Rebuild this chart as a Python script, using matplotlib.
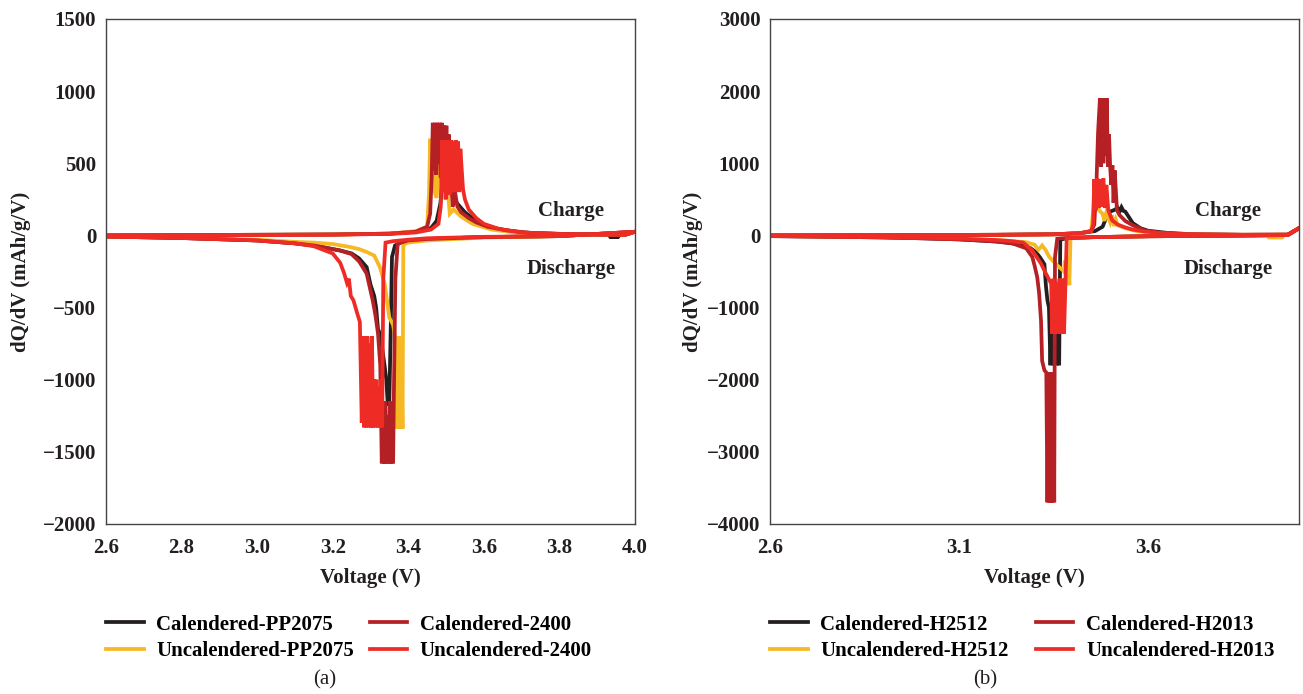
import matplotlib
matplotlib.use('Agg')
import matplotlib.pyplot as plt

plt.rcParams['font.family'] = ['Liberation Serif', 'DejaVu Serif']
plt.rcParams['font.weight'] = 'bold'

BLACK = '#231f20'
YELLOW = '#f6b823'
DARKRED = '#b52025'
RED = '#ee2b25'
TXT = '#231f20'

# ---------------- panel (a) ----------------
# Calendered-PP2075
a_cal_pp_chg_v = [2.60, 2.90, 3.20, 3.35, 3.42, 3.46, 3.475, 3.485, 3.49, 3.495, 3.50, 3.505, 3.51, 3.515,
                  3.52, 3.53, 3.55, 3.58, 3.62, 3.70, 3.80, 3.90, 3.93, 3.935, 3.955, 3.96, 3.975, 4.00]
a_cal_pp_chg_q = [0, 3, 6, 12, 25, 50, 100, 220, 350, 420, 330, 400, 300, 330,
                  260, 220, 160, 100, 50, 20, 10, 5, 5, -12, -12, 5, 5, 25]
a_cal_pp_dis_v = [4.00, 3.80, 3.60, 3.45, 3.40, 3.38, 3.365, 3.357, 3.354, 3.350, 3.346, 3.342, 3.338,
                  3.33, 3.325, 3.32, 3.315, 3.31, 3.30, 3.29, 3.27, 3.25, 3.22, 3.15, 3.10, 3.00, 2.80, 2.60]
a_cal_pp_dis_q = [25, -5, -12, -25, -40, -50, -70, -150, -600, -1150, -1180, -1000, -915,
                  -760, -680, -650, -500, -420, -340, -220, -160, -125, -105, -70, -55, -35, -18, -8]

# Uncalendered-PP2075
a_unc_pp_chg_v = [2.60, 2.90, 3.20, 3.35, 3.42, 3.45, 3.455, 3.458, 3.462, 3.466, 3.47, 3.475, 3.48, 3.485,
                  3.49, 3.495, 3.50, 3.505, 3.51, 3.52, 3.54, 3.57, 3.62, 3.70, 3.80, 3.90, 3.975, 4.00]
a_unc_pp_chg_q = [0, 3, 6, 12, 30, 60, 300, 670, 450, 670, 300, 260, 450, 600,
                  300, 400, 250, 300, 150, 180, 130, 80, 40, 15, 8, 5, 5, 25]
a_unc_pp_dis_v = [4.00, 3.80, 3.60, 3.45, 3.40, 3.39, 3.387, 3.385, 3.381, 3.377, 3.373, 3.369, 3.365,
                  3.36, 3.35, 3.338, 3.325, 3.31, 3.29, 3.27, 3.245, 3.20, 3.15, 3.10, 3.00, 2.80, 2.60]
a_unc_pp_dis_q = [25, -5, -15, -35, -50, -60, -70, -1340, -700, -1340, -700, -1340, -700,
                  -620, -570, -340, -220, -140, -115, -95, -80, -60, -50, -45, -30, -15, -8]

# Calendered-2400
a_cal_24_chg_v = [2.60, 2.90, 3.20, 3.35, 3.42, 3.45, 3.458, 3.462, 3.465, 3.468, 3.471, 3.474, 3.477,
                  3.480, 3.483, 3.486, 3.489, 3.492, 3.495, 3.498, 3.501, 3.504, 3.507, 3.510, 3.513,
                  3.518, 3.522, 3.53, 3.54, 3.56, 3.58, 3.61, 3.66, 3.73, 3.85, 3.95, 3.975, 4.00]
a_cal_24_chg_q = [0, 3, 6, 12, 25, 60, 150, 400, 780, 450, 780, 420, 780,
                  500, 780, 400, 780, 450, 760, 420, 760, 400, 700, 400, 380,
                  200, 330, 200, 160, 120, 90, 60, 35, 15, 8, 5, 5, 25]
a_cal_24_dis_v = [4.00, 3.80, 3.60, 3.45, 3.40, 3.38, 3.372, 3.366, 3.362, 3.360, 3.357, 3.354, 3.351,
                  3.348, 3.345, 3.342, 3.339, 3.336, 3.333, 3.330, 3.326, 3.32, 3.313, 3.306, 3.29,
                  3.27, 3.25, 3.22, 3.15, 3.10, 3.00, 2.80, 2.60]
a_cal_24_dis_q = [25, -5, -12, -25, -35, -50, -60, -300, -1100, -1580, -1200, -1580, -1150,
                  -1580, -1250, -1580, -1150, -1580, -1200, -1580, -900, -680, -550, -450, -265,
                  -180, -130, -105, -70, -55, -35, -18, -8]

# Uncalendered-2400
a_unc_24_chg_v = [2.60, 2.90, 3.20, 3.35, 3.42, 3.46, 3.48, 3.486, 3.490, 3.493, 3.496, 3.499, 3.502,
                  3.505, 3.508, 3.511, 3.514, 3.517, 3.520, 3.523, 3.526, 3.529, 3.532, 3.535, 3.538,
                  3.545, 3.55, 3.56, 3.58, 3.60, 3.64, 3.70, 3.80, 3.90, 3.975, 4.00]
a_unc_24_chg_q = [0, 2, 5, 10, 20, 40, 80, 200, 660, 300, 660, 250, 660,
                  300, 650, 280, 660, 300, 650, 300, 660, 320, 650, 300, 600,
                  320, 250, 180, 120, 80, 45, 20, 10, 5, 5, 25]
a_unc_24_dis_v = [4.00, 3.80, 3.60, 3.45, 3.40, 3.36, 3.34, 3.334, 3.331, 3.328, 3.325, 3.322, 3.319,
                  3.316, 3.313, 3.310, 3.307, 3.304, 3.301, 3.298, 3.295, 3.292, 3.289, 3.286, 3.283,
                  3.280, 3.277, 3.272, 3.265, 3.255, 3.248, 3.243, 3.238, 3.23, 3.22, 3.20, 3.15,
                  3.10, 3.00, 2.80, 2.60]
a_unc_24_dis_q = [25, -5, -10, -20, -30, -40, -50, -300, -1330, -1000, -1330, -1050, -1330,
                  -1000, -1330, -1000, -1330, -700, -1330, -750, -1330, -700, -1330, -700, -1330,
                  -700, -1300, -600, -540, -450, -420, -300, -330, -260, -190, -125, -75,
                  -55, -35, -18, -8]

# ---------------- panel (b) ----------------
# Calendered-H2512
b_cal_25_chg_v = [2.60, 2.90, 3.20, 3.35, 3.42, 3.46, 3.48, 3.49, 3.50, 3.51, 3.52, 3.525, 3.53, 3.535,
                  3.54, 3.55, 3.56, 3.58, 3.60, 3.65, 3.72, 3.85, 3.97, 4.00]
b_cal_25_chg_q = [0, 3, 8, 15, 30, 60, 120, 250, 330, 350, 380, 330, 390, 340,
                  330, 250, 170, 100, 65, 35, 15, 8, 10, 100]
b_cal_25_dis_v = [4.00, 3.97, 3.80, 3.60, 3.45, 3.40, 3.38, 3.368, 3.365, 3.362, 3.358, 3.354, 3.350,
                  3.346, 3.342, 3.338, 3.334, 3.33, 3.326, 3.315, 3.304, 3.29, 3.27, 3.24, 3.20,
                  3.15, 3.10, 3.00, 2.90, 2.75, 2.60]
b_cal_25_dis_q = [100, 5, -5, -12, -25, -35, -45, -60, -1800, -900, -1800, -950, -1800,
                  -900, -1800, -1000, -900, -700, -400, -310, -235, -180, -140, -110, -85,
                  -70, -55, -40, -28, -18, -10]

# Uncalendered-H2512
b_unc_25_chg_v = [2.60, 2.90, 3.20, 3.35, 3.42, 3.45, 3.456, 3.458, 3.462, 3.465, 3.47, 3.48, 3.485,
                  3.49, 3.50, 3.505, 3.51, 3.515, 3.52, 3.54, 3.57, 3.62, 3.70, 3.85, 3.97, 4.00]
b_unc_25_chg_q = [0, 3, 8, 15, 30, 60, 400, 780, 500, 650, 350, 300, 200,
                  320, 180, 280, 130, 220, 140, 100, 60, 30, 15, 8, 10, 100]
b_unc_25_dis_v = [4.00, 3.97, 3.96, 3.955, 3.92, 3.915, 3.80, 3.60, 3.45, 3.40, 3.395, 3.392, 3.388,
                  3.384, 3.380, 3.378, 3.357, 3.339, 3.33, 3.32, 3.31, 3.30, 3.278, 3.24, 3.20,
                  3.15, 3.10, 3.00, 2.90, 2.75, 2.60]
b_unc_25_dis_q = [100, 5, 5, -30, -30, 0, -5, -12, -25, -35, -45, -690, -300,
                  -690, -350, -500, -400, -300, -210, -140, -200, -130, -95, -80, -65,
                  -55, -45, -35, -25, -15, -8]

# Calendered-H2013
b_cal_20_chg_v = [2.60, 2.90, 3.20, 3.35, 3.42, 3.45, 3.458, 3.464, 3.468, 3.473, 3.476, 3.479, 3.482,
                  3.485, 3.488, 3.491, 3.494, 3.497, 3.500, 3.503, 3.506, 3.509, 3.512, 3.518, 3.525,
                  3.54, 3.56, 3.59, 3.63, 3.70, 3.85, 3.97, 4.00]
b_cal_20_chg_q = [0, 3, 8, 15, 30, 60, 150, 760, 1430, 1900, 950, 1900, 1000,
                  1900, 1100, 1900, 950, 1400, 950, 700, 970, 450, 900, 350, 280,
                  200, 140, 70, 35, 15, 8, 10, 100]
b_cal_20_dis_v = [4.00, 3.97, 3.80, 3.60, 3.45, 3.40, 3.37, 3.36, 3.354, 3.352, 3.349, 3.346, 3.343,
                  3.340, 3.337, 3.334, 3.331, 3.326, 3.320, 3.317, 3.312, 3.307, 3.300, 3.294, 3.278,
                  3.241, 3.20, 3.154, 3.10, 3.00, 2.90, 2.75, 2.60]
b_cal_20_dis_q = [100, 5, -5, -12, -25, -35, -40, -45, -300, -3700, -1900, -3700, -1900,
                  -3700, -1900, -3700, -1900, -1870, -1740, -1180, -800, -580, -420, -300, -180,
                  -110, -85, -70, -55, -40, -28, -18, -10]

# Uncalendered-H2013
b_unc_20_chg_v = [2.60, 2.90, 3.20, 3.35, 3.42, 3.45, 3.455, 3.458, 3.462, 3.466, 3.470, 3.474, 3.478,
                  3.482, 3.486, 3.490, 3.495, 3.505, 3.52, 3.54, 3.56, 3.59, 3.64, 3.70, 3.85, 3.97, 4.00]
b_unc_20_chg_q = [0, 3, 8, 15, 30, 60, 150, 780, 350, 790, 380, 780, 400,
                  790, 380, 700, 350, 210, 150, 110, 80, 55, 30, 15, 8, 10, 100]
b_unc_20_dis_v = [4.00, 3.97, 3.80, 3.60, 3.45, 3.40, 3.385, 3.378, 3.374, 3.370, 3.366, 3.362, 3.358,
                  3.354, 3.350, 3.346, 3.344, 3.33, 3.317, 3.294, 3.27, 3.24, 3.20, 3.15, 3.10,
                  3.00, 2.90, 2.75, 2.60]
b_unc_20_dis_q = [100, 5, -5, -12, -25, -35, -40, -1360, -600, -1360, -600, -1360, -650,
                  -1360, -600, -1360, -670, -530, -390, -210, -100, -80, -65, -55, -45,
                  -35, -25, -15, -8]

a_series = [
    ('Calendered-PP2075', BLACK, a_cal_pp_chg_v, a_cal_pp_chg_q, a_cal_pp_dis_v, a_cal_pp_dis_q),
    ('Uncalendered-PP2075', YELLOW, a_unc_pp_chg_v, a_unc_pp_chg_q, a_unc_pp_dis_v, a_unc_pp_dis_q),
    ('Calendered-2400', DARKRED, a_cal_24_chg_v, a_cal_24_chg_q, a_cal_24_dis_v, a_cal_24_dis_q),
    ('Uncalendered-2400', RED, a_unc_24_chg_v, a_unc_24_chg_q, a_unc_24_dis_v, a_unc_24_dis_q),
]
b_series = [
    ('Calendered-H2512', BLACK, b_cal_25_chg_v, b_cal_25_chg_q, b_cal_25_dis_v, b_cal_25_dis_q),
    ('Uncalendered-H2512', YELLOW, b_unc_25_chg_v, b_unc_25_chg_q, b_unc_25_dis_v, b_unc_25_dis_q),
    ('Calendered-H2013', DARKRED, b_cal_20_chg_v, b_cal_20_chg_q, b_cal_20_dis_v, b_cal_20_dis_q),
    ('Uncalendered-H2013', RED, b_unc_20_chg_v, b_unc_20_chg_q, b_unc_20_dis_v, b_unc_20_dis_q),
]

a_xticks = [2.6, 2.8, 3.0, 3.2, 3.4, 3.6, 3.8, 4.0]
a_xlabels = ['2.6', '2.8', '3.0', '3.2', '3.4', '3.6', '3.8', '4.0']
a_yticks = [-2000, -1500, -1000, -500, 0, 500, 1000, 1500]
b_xticks = [2.6, 3.1, 3.6]
b_xlabels = ['2.6', '3.1', '3.6']
b_yticks = [-4000, -3000, -2000, -1000, 0, 1000, 2000, 3000]

FS = 15

fig = plt.figure(figsize=(13.03, 6.94), dpi=100)
ax_a = fig.add_axes([0.0813, 0.245, 0.406, 0.7277])
ax_b = fig.add_axes([0.591, 0.245, 0.406, 0.7277])


def draw_panel(ax, series, xticks, xlabels, yticks, colspace, textx):
    for name, col, cv, cq, dv, dq in series:
        ax.plot(cv, cq, color=col, lw=2.7, solid_joinstyle='miter', label=name)
        ax.plot(dv, dq, color=col, lw=2.7, solid_joinstyle='miter')
    ax.set_xlim(2.6, 4.0)
    ax.set_ylim(yticks[0], yticks[-1])
    ax.set_xticks(xticks)
    ax.set_xticklabels(xlabels)
    ax.set_yticks(yticks)
    ax.set_yticklabels([str(t).replace('-', '\u2212') for t in yticks])
    ax.tick_params(axis='y', length=0, labelsize=FS, colors=TXT, pad=7)
    ax.tick_params(axis='x', length=0, labelsize=FS, colors=TXT, pad=10)
    for s in ax.spines.values():
        s.set_color('#444444')
        s.set_linewidth(1.0)
    ax.set_xlabel('Voltage (V)', fontsize=FS, color=TXT, fontweight='bold')
    ax.set_ylabel('dQ/dV (mAh/g/V)', fontsize=FS, color=TXT, fontweight='bold')
    ax.xaxis.set_label_coords(0.5, -0.087)
    ax.text(textx, 0.62, 'Charge', transform=ax.transAxes, ha='center', va='center',
            fontsize=FS, color=TXT, fontweight='bold')
    ax.text(textx, 0.505, 'Discharge', transform=ax.transAxes, ha='center', va='center',
            fontsize=FS, color=TXT, fontweight='bold')
    handles, labels = ax.get_legend_handles_labels()
    ax.legend(handles, labels, ncol=2, loc='upper left', bbox_to_anchor=(-0.015, -0.163),
              frameon=False, handlelength=1.8, handletextpad=0.6,
              columnspacing=colspace, labelspacing=0.3, borderaxespad=0,
              prop={'family': ['Liberation Serif'], 'weight': 'bold', 'size': FS})


draw_panel(ax_a, a_series, a_xticks, a_xlabels, a_yticks, 0.75, 0.88)
draw_panel(ax_b, b_series, b_xticks, b_xlabels, b_yticks, 1.3, 0.866)
ax_a.yaxis.set_label_coords(-0.142, 0.5)
ax_b.yaxis.set_label_coords(-0.127, 0.5)

fig.text(325 / 1303, 1 - 680 / 694, '(a)', ha='center', va='center', fontsize=FS,
         color=TXT, fontweight='normal')
fig.text(985 / 1303, 1 - 680 / 694, '(b)', ha='center', va='center', fontsize=FS,
         color=TXT, fontweight='normal')

fig.savefig('out.png', dpi=100)
